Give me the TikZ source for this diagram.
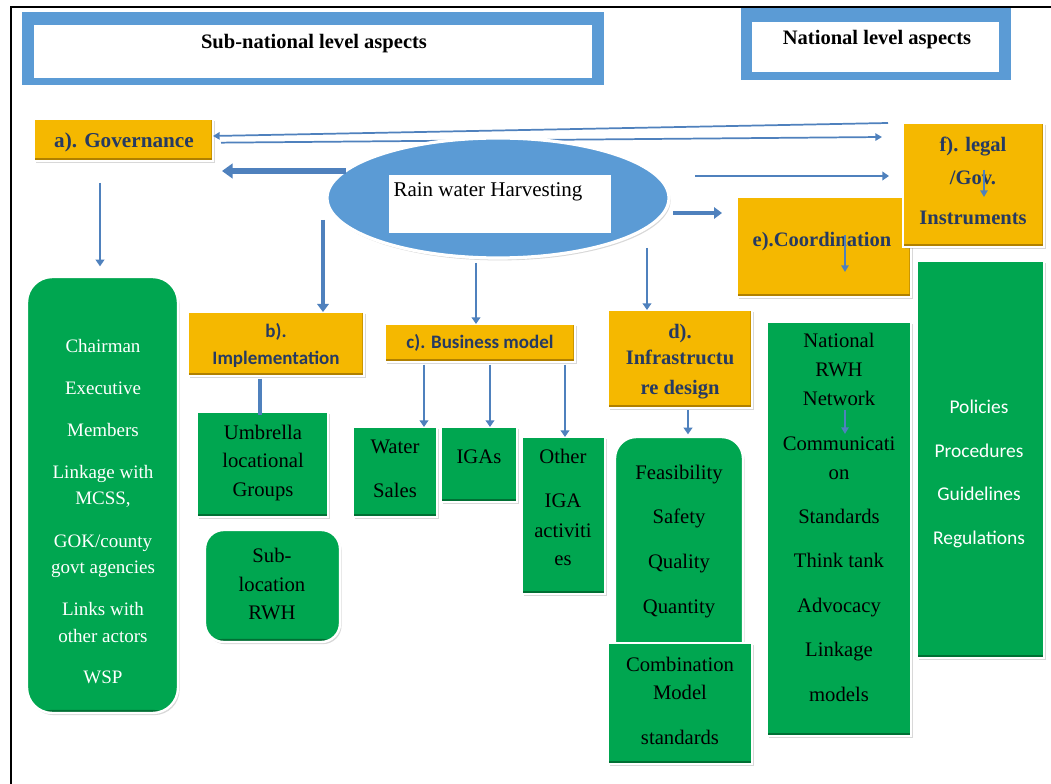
\documentclass[tikz,border=0pt]{standalone}
\usepackage{fontspec}
\setmainfont{Liberation Serif}
\newfontfamily\calfont{Carlito}
\usetikzlibrary{arrows.meta,shapes.geometric,fit,shadows}
\definecolor{gold}{RGB}{245,184,0}
\definecolor{golddk}{RGB}{176,128,0}
\definecolor{grn}{RGB}{0,166,80}
\definecolor{grndk}{RGB}{0,112,52}
\definecolor{hblue}{RGB}{91,155,213}
\definecolor{ablue}{RGB}{79,129,189}
\definecolor{navy}{RGB}{38,58,98}
\begin{document}
\begin{tikzpicture}[x=0.75pt,y=-0.75pt,
  box/.style={inner sep=0pt,outer sep=0pt,draw=white,line width=1.8pt,
     drop shadow={shadow xshift=1.2pt,shadow yshift=-1.6pt,opacity=.3}},
  goldbox/.style={box,fill=gold,path picture={
     \fill[golddk] ([yshift=2.6pt]path picture bounding box.south west) rectangle (path picture bounding box.south east);
     \fill[golddk!60!gold] ([xshift=-1.8pt]path picture bounding box.north east) rectangle ([yshift=2.6pt]path picture bounding box.south east);}},
  greenbox/.style={box,fill=grn,path picture={
     \fill[grndk] ([yshift=2.4pt]path picture bounding box.south west) rectangle (path picture bounding box.south east);}},
  hdrout/.style={inner sep=0pt,outer sep=0pt,fill=hblue},
  hdrin/.style={inner sep=0pt,outer sep=0pt,fill=white},
  tl/.style={inner sep=0pt,anchor=center,text depth=0pt},
  hdr/.style={tl,font=\fontsize{15.4pt}{18pt}\selectfont\bfseries,text height=10.2pt},
  wlist/.style={tl,text=white,font=\fontsize{14.25pt}{16pt}\selectfont,text height=9.4pt},
  blist/.style={tl,text=black,font=\fontsize{15.5pt}{18pt}\selectfont,text height=10.2pt},
  plist/.style={tl,text=white,font=\calfont\fontsize{14.6pt}{17pt}\selectfont,text height=9.2pt},
  goldser/.style={tl,text=navy,font=\fontsize{15.4pt}{18pt}\selectfont\bfseries,text height=10.2pt},
  goldsans/.style={tl,text=navy,font=\calfont\fontsize{14.25pt}{17pt}\selectfont\bfseries,text height=9pt},
  conn/.style={draw=ablue,line width=2.2pt,-{Triangle[length=5pt,width=6.5pt]}},
  thinc/.style={draw=ablue,line width=1.3pt,-{Triangle[length=5pt,width=5.5pt]}},
  midc/.style={draw=ablue,line width=3.6pt,-{Triangle[length=6pt,width=8.5pt]}},
  fatc/.style={draw=ablue,line width=4.5pt,-{Triangle[length=8pt,width=11pt]}},
  plainc/.style={draw=ablue,line width=2.8pt}
]
\useasboundingbox (0,0) rectangle (1051,784);
\fill[white] (0,0) rectangle (1051,784);

% headers
\node[hdrout,fit={(22,12)(604,85)}] (subout) {};
\node[hdrin,fit={(34,25)(592,78)}] (subin) {};
\node[hdr] (subT) at (314,42) {Sub-national level aspects};
\node[hdrout,fit={(741,8)(1011,80)}] (natout) {};
\node[hdrin,fit={(752,22)(999,72)}] (natin) {};
\node[hdr] (natT) at (877,38) {National level aspects};

% gold boxes
\node[goldbox,fit={(34,119)(213,161)}] (gov) {};
\node[goldser,font=\fontsize{15.9pt}{18pt}\selectfont\bfseries] (govT) at (124,141) {a). Governance};

% top long connectors (behind ellipse)
\coordinate (tA1) at (888,123);
\coordinate (tB2) at (882,137);
\draw[thinc] (tA1) -- ([yshift=3pt]gov.east);
\draw[thinc] ([xshift=6pt,yshift=-2pt]gov.east) -- (tB2);

\node[goldbox,fit={(188,312)(364,376)}] (b) {};
\node[goldsans] (bT1) at (276,332) {b).};
\node[goldsans] (bT2) at (276,359) {Implementation};

\node[goldbox,fit={(385,324)(575,362)}] (c) {};
\node[goldsans] (cT) at (480,343) {c). Business model};

\node[goldbox,fit={(608,310)(752,408)}] (d) {};
\foreach \yy/\tt [count=\i] in {332/{d).},358/Infrastructu,388/re design}
  \node[goldser] (dT\i) at (680,\yy) {\tt};

\node[goldbox,fit={(737,197)(911,297)}] (e) {};
\node[goldser] (eT) at (822,240) {e).Coordination};

\node[goldbox,fit={(903,123)(1044,247)}] (f) {};
\foreach \yy/\tt [count=\i] in {145/{f). legal},178/{/Gov.},218/Instruments}
  \node[goldser] (fT\i) at (973,\yy) {\tt};

% ellipse
\node[ellipse,fill=hblue,draw=white,line width=2.4pt,inner sep=0pt,
      minimum width=256.5pt,minimum height=90pt,
      drop shadow={shadow xshift=1.2pt,shadow yshift=-1.8pt,opacity=.3}] (ell) at (498,198) {};
\node[hdrin,fit={(389,175)(611,233)}] (ellin) {};
\node[tl,font=\fontsize{15.75pt}{18pt}\selectfont,text height=10.4pt] (rwh) at (488,190) {Rain water Harvesting};

% green boxes
\node[greenbox,rounded corners=19pt,fit={(27,277)(178,713)}] (govlist) {};
\foreach \yy/\tt [count=\i] in {346/Chairman,388/Executive,430/Members,472/Linkage with,498/{MCSS,},541/{GOK/county},567/govt agencies,609/Links with,636/other actors,677/WSP}
  \node[wlist] (gl\i) at (103,\yy) {\tt};

\node[greenbox,fit={(197,412)(328,517)}] (umb) {};
\foreach \yy/\tt [count=\i] in {433/Umbrella,461/locational,490/Groups}
  \node[blist] (um\i) at (263,\yy) {\tt};

\node[greenbox,rounded corners=14pt,fit={(205,530)(340,642)}] (sub) {};
\foreach \yy/\tt [count=\i] in {556/Sub-,585/location,613/RWH}
  \node[blist] (su\i) at (272,\yy) {\tt};

\node[greenbox,fit={(353,427)(437,517)}] (ws) {};
\foreach \yy/\tt [count=\i] in {447/Water,491/Sales}
  \node[blist] (ws\i) at (395,\yy) {\tt};

\node[greenbox,fit={(441,427)(517,502)}] (igas) {};
\node[blist] (igT) at (479,457) {IGAs};

\node[greenbox,fit={(522,437)(605,594)}] (other) {};
\foreach \yy/\tt [count=\i] in {457/Other,501/IGA,531/activiti,559/es}
  \node[blist] (ot\i) at (563,\yy) {\tt};

\node[greenbox,rounded corners=16pt,fit={(615,437)(743,690)}] (feas) {};
\foreach \yy/\tt [count=\i] in {473/Feasibility,517/Safety,562/Quality,607/Quantity}
  \node[blist] (fe\i) at (679,\yy) {\tt};

\node[greenbox,fit={(608,643)(752,764)}] (comb) {};
\foreach \yy/\tt [count=\i] in {665/Combination,693/Model,738/standards}
  \node[blist] (co\i) at (680,\yy) {\tt};

\node[greenbox,fit={(767,322)(911,736)}] (nat) {};
\foreach \yy/\tt [count=\i] in {341/National,370/RWH,399/Network,444/Communicati,473/on,517/Standards,561/Think tank,606/Advocacy,650/Linkage,695/models}
  \node[blist] (na\i) at (839,\yy) {\tt};

\node[greenbox,fit={(917,261)(1044,658)}] (pol) {};
\foreach \yy/\tt [count=\i] in {407/Policies,451/Procedures,494/Guidelines,538/Regulations}
  \node[plist] (po\i) at (979,\yy) {\tt};

% connectors
\coordinate (gA) at (222,171);
\draw[fatc] (ell.169 |- gA) -- (gA);
\coordinate (eS) at (673,213);
\coordinate (eA) at (722,213);
\draw[midc] (eS) -- (eA);
\coordinate (fS) at (695,176);
\coordinate (fA) at (889,176);
\draw[conn] (fS) -- (fA);

\coordinate (xg) at (100,0);
\draw[conn,shorten <=16.5pt,shorten >=8pt] (gov.south -| xg) -- (govlist.north -| xg);
\coordinate (bS) at (323,220);
\draw[midc] (bS) -- (b.north -| bS);
\coordinate (cS) at (476,263);
\draw[conn] (cS) -- (c.north -| cS);
\coordinate (dS) at (647,248);
\draw[conn] (dS) -- (d.north -| dS);
\coordinate (xu) at (260,0);
\draw[plainc] ([yshift=-2pt]b.south -| xu) -- ([yshift=-2pt]umb.north -| xu);
\coordinate (x1) at (424,0);
\coordinate (x2) at (490,0);
\coordinate (x3) at (565,0);
\draw[conn,shorten <=2pt] (c.south -| x1) -- (ws.north -| x1);
\draw[conn,shorten <=2pt] (c.south -| x2) -- (igas.north -| x2);
\draw[conn,shorten <=2pt] (c.south -| x3) -- (other.north -| x3);
\coordinate (xd) at (688,0);
\draw[conn,shorten <=1.5pt,shorten >=2pt] (d.south -| xd) -- (feas.north -| xd);
\coordinate (eI1) at (845,235);
\coordinate (eI2) at (845,272);
\draw[thinc] (eI1) -- (eI2);
\coordinate (nI1) at (845,410);
\coordinate (nI2) at (845,434);
\draw[thinc] (nI1) -- (nI2);
\coordinate (fI1) at (984,170);
\coordinate (fI2) at (984,197);
\draw[thinc] (fI1) -- (fI2);

% frame
\draw[line width=1.6pt] (1051,7) -- (11,7) -- (11,784);
\end{tikzpicture}
\end{document}
